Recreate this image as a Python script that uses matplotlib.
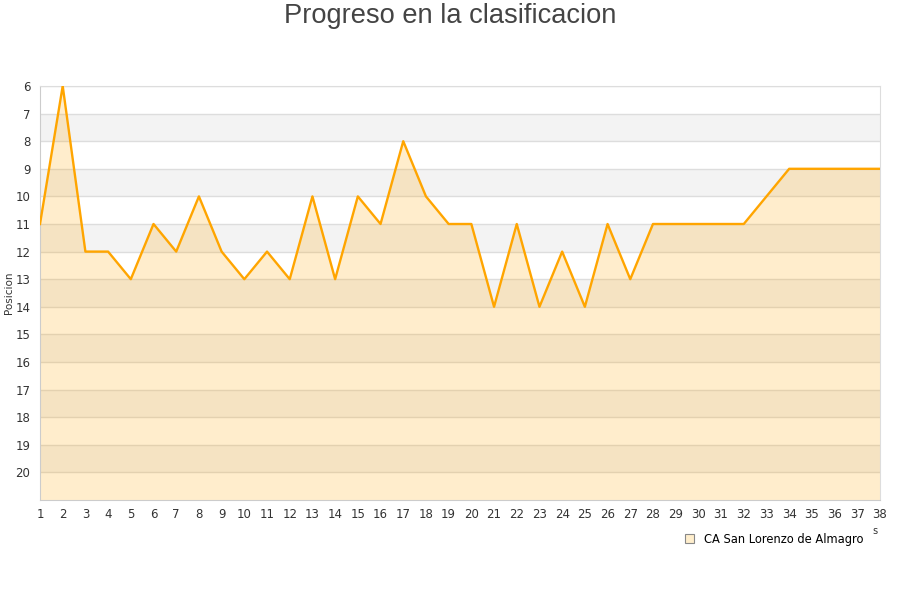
import matplotlib
matplotlib.use("Agg")
import matplotlib.pyplot as plt
from matplotlib.patches import Patch

rounds = list(range(1, 39))
positions = [11, 6, 12, 12, 13, 11, 12, 10, 12, 13,
             12, 13, 10, 13, 10, 11, 8, 10, 11, 11,
             14, 11, 14, 12, 14, 11, 13, 11, 11, 11,
             11, 11, 10, 9, 9, 9, 9, 9]
team = "CA San Lorenzo de Almagro"
title = "Progreso en la clasificacion"
ylabel = "Posicion"
yticks = list(range(6, 21))

fig = plt.figure(figsize=(9, 6), dpi=100)
ax = fig.add_axes([40/900, 1-500/600, 840/900, 414/600])

ax.set_xlim(1, 38)
ax.set_ylim(21, 6)

# alternating bands
for y0 in range(7, 21, 2):
    ax.axhspan(y0, y0 + 1, color="#f3f3f3", zorder=0, lw=0)

ax.set_yticks(yticks)
ax.set_xticks(rounds)
ax.grid(axis="y", color="#dddddd", lw=1, zorder=1)
ax.grid(axis="x", visible=False)

ax.fill_between(rounds, positions, 21, color="#ffa500", alpha=0.2, lw=0, zorder=2)
ax.plot(rounds, positions, color="#ffa500", lw=1.7, zorder=3)

for s in ax.spines.values():
    s.set_color("#dddddd")
ax.spines["left"].set_color("#cccccc")
ax.spines["bottom"].set_color("#cccccc")

ax.tick_params(axis="both", length=0, labelsize=8.5, colors="#333333", pad=6)
ax.tick_params(axis="y", pad=7)

fig.text(9/900, 1-293/600, ylabel, rotation=90, ha="center", va="center",
         fontsize=7.5, color="#333333")

fig.text(0.5, 1-16/600, title, ha="center", va="center", fontsize=19.6,
         color="#444444", family="Liberation Sans")
fig.text(875/900, 1-531/600, "s", ha="center", va="center", fontsize=7, color="#333333")

handle = Patch(facecolor="#ffeecc", edgecolor="#888888", lw=0.8)
fig.legend([handle], [team], loc="center left", bbox_to_anchor=(679/900, 1-539/600),
           frameon=False, fontsize=8.3, handlelength=0.8, handleheight=0.8,
           handletextpad=0.9, borderpad=0)

fig.savefig("out.png", dpi=100)
